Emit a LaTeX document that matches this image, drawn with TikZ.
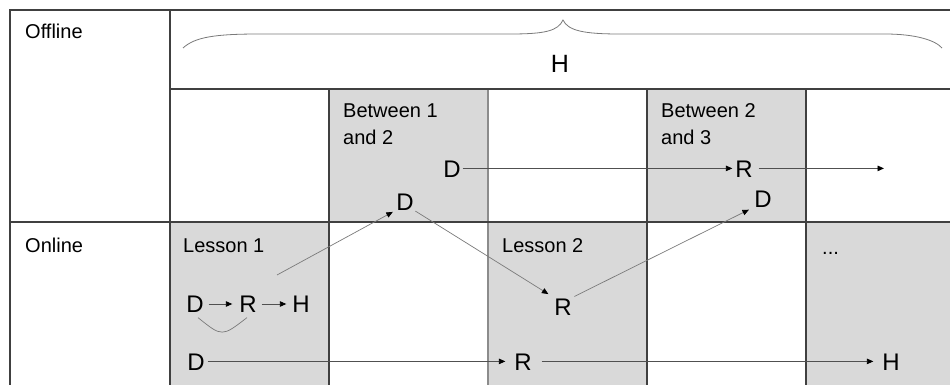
\documentclass[tikz,border=0pt]{standalone}
\usepackage{fontspec}
\setmainfont{Liberation Sans}
\usetikzlibrary{arrows.meta}
\definecolor{cellgray}{HTML}{D9D9D9}
\definecolor{gridcol}{HTML}{404040}
\definecolor{lightgrid}{HTML}{8C8C8C}
\definecolor{arrcol}{HTML}{505050}
\definecolor{diagcol}{HTML}{7A7A7A}
\begin{document}
\begin{tikzpicture}[x=1pt,y=-1pt,
  gridline/.style={draw=gridcol,line width=1.5pt},
  lightline/.style={draw=lightgrid,line width=1.2pt},
  label/.style={font=\fontsize{20}{27}\selectfont,inner sep=0pt,anchor=base west,text=black},
  multilabel/.style={font=\fontsize{20}{27}\selectfont,inner sep=0pt,anchor=north west,align=left,text=black},
  letter/.style={font=\fontsize{24}{28}\selectfont,inner sep=0pt,outer sep=0pt,text height=17.2pt,text depth=0pt,anchor=center},
  arr/.style={draw=arrcol,line width=0.9pt,-{Triangle[length=6.5pt,width=5.5pt,black]}},
  diag/.style={draw=diagcol,line width=0.7pt,-{Triangle[length=6.5pt,width=5.5pt,black]}},
  loopline/.style={draw=diagcol,line width=0.7pt}
]
\useasboundingbox (0,0) rectangle (950,385);
\clip (0,0) rectangle (950,385);
\fill[white] (0,0) rectangle (950,385);
% shaded cells
\fill[cellgray] (170,222) rectangle (329,400);
\fill[cellgray] (329,89) rectangle (488,222);
\fill[cellgray] (488,222) rectangle (647,400);
\fill[cellgray] (647,89) rectangle (806,222);
\fill[cellgray] (806,222) rectangle (960,400);
% grid
\draw[lightline] (488,89) -- (488,400);
\draw[gridline] (10,400) -- (10,10) -- (960,10);
\draw[gridline] (170,10) -- (170,400);
\draw[gridline] (170,89) -- (960,89);
\draw[gridline] (10,222) -- (960,222);
\draw[gridline] (329,89) -- (329,400);
\draw[gridline] (647,89) -- (647,400);
\draw[gridline] (806,89) -- (806,400);
% brace
\draw[draw=diagcol,line width=0.8pt] (183,48) .. controls (195,37) and (215,34) .. (260,34)
  -- (510,34) .. controls (545,34) and (558,31) .. (563,20)
  .. controls (568,31) and (585,34) .. (620,34)
  -- (885,34) .. controls (915,34) and (935,40) .. (942,48);
\node[letter,font=\fontsize{25}{28}\selectfont,text height=18pt] (hh) at (560,63.5) {H};
% labels
\node[label] (offline) at (25,39) {Offline};
\node[label] (online) at (25,252) {Online};
\node[label] (lesson1) at (183,252) {Lesson 1};
\node[label] (lesson2) at (502,252) {Lesson 2};
\node[label] (dots) at (822,254) {...};
\node[multilabel] (btw12) at (343,103.8) {Between 1\\and 2};
\node[multilabel] (btw23) at (661,103.8) {Between 2\\and 3};
% offline row letters
\node[letter] (d1) at (452,168.4) {D};
\node[letter] (r1) at (744,168.4) {R};
\coordinate (end1) at (884,168.4);
\node[letter] (d2) at (405,201.4) {D};
\node[letter] (d3) at (763,198.4) {D};
% lesson 1
\node[letter] (l1d) at (195,304) {D};
\node[letter] (l1r) at (248,304) {R};
\node[letter] (l1h) at (301,304) {H};
\coordinate (l1out) at (277,275);
% lesson 2
\node[letter] (r2) at (563,306.4) {R};
% bottom row
\node[letter] (d4) at (196,361.4) {D};
\node[letter] (r4) at (523,361.4) {R};
\node[letter] (h4) at (891,361.4) {H};
% connectors
\draw[arr,shorten <=2pt,shorten >=3pt] (d1) -- (r1);
\draw[arr,shorten <=6pt] (r1) -- (end1);
\draw[diag,shorten >=4pt] (l1out) -- (d2.south west);
\draw[diag,shorten <=2pt,shorten >=7pt] (d2.south east) -- (r2.north west);
\draw[diag,shorten <=3pt,shorten >=6pt] (r2.north east) -- (d3.south west);
\draw[arr,shorten <=5pt,shorten >=7pt] (l1d) -- (l1r);
\draw[arr,shorten <=5pt,shorten >=6pt] (l1r) -- (l1h);
\draw[loopline] ([shift={(3,5)}]l1d.south) .. controls (222,337) .. ([shift={(-1,5)}]l1r.south);
\draw[arr,shorten <=3pt,shorten >=9pt] (d4) -- (r4);
\draw[arr,shorten <=10pt,shorten >=9pt] (r4) -- (h4);
\end{tikzpicture}
\end{document}
